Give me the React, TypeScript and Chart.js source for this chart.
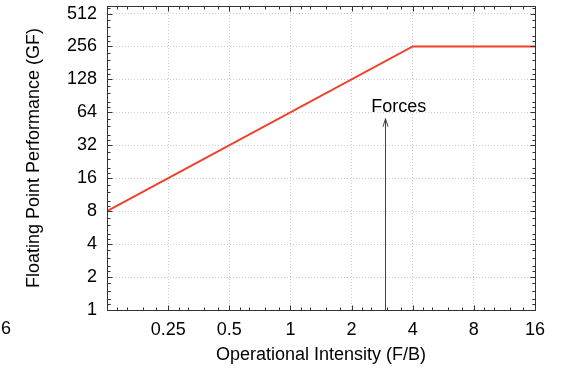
import React, { useEffect, useRef } from 'react';
import { Chart, registerables } from 'chart.js';

Chart.register(...registerables);

// ---- data ----
const INTENSITY = [0.125, 4, 16];
const PERFORMANCE = [8, 256, 256];
const X_TICKS = [0.25, 0.5, 1, 2, 4, 8, 16];
const Y_TICKS = [1, 2, 4, 8, 16, 32, 64, 128, 256, 512];
const X_MIN = 0.125;
const X_MAX = 16;
const Y_MIN = 1;
const Y_MAX = 600;
const MINOR_FACTORS = [1.125, 1.25, 1.5, 1.75];
const ARROW_X = 2.92;
const ARROW_FROM = 1;
const ARROW_TO = 56;
const LABEL_TEXT = 'Forces';
const LABEL_X = 2.5;
const LABEL_Y = 64;
const STRAY_LABEL = '6';
const X_TITLE = 'Operational Intensity (F/B)';
const Y_TITLE = 'Floating Point Performance (GF)';

const FONT = "'Liberation Sans', Arial, Helvetica, sans-serif";
const LINE_COLOR = '#f0402a';
const FRAME_COLOR = '#333333';
const GRID_COLOR = '#cccccc';

function withMinors(majors: number[], lo: number, hi: number) {
  const out: { v: number; major: boolean }[] = [];
  const all = [lo, ...majors];
  for (const v of all) {
    if (v >= lo && v <= hi && majors.includes(v)) out.push({ v, major: true });
    for (const f of MINOR_FACTORS) {
      const m = v * f;
      if (m > lo && m < hi) out.push({ v: m, major: false });
    }
  }
  return out;
}

const framePlugin = {
  id: 'frameTicks',
  afterDatasetsDraw(chart: any) {
    const { ctx, chartArea: a, scales } = chart;
    const xs = scales.x;
    const ys = scales.y;
    ctx.save();

    // annotation arrow
    const ax = Math.round(xs.getPixelForValue(ARROW_X)) + 0.5;
    const ay0 = ys.getPixelForValue(ARROW_FROM);
    const ay1 = ys.getPixelForValue(ARROW_TO);
    ctx.strokeStyle = '#444444';
    ctx.lineWidth = 1;
    ctx.beginPath();
    ctx.moveTo(ax, ay0);
    ctx.lineTo(ax, ay1);
    ctx.moveTo(ax - 2.5, ay1 + 8);
    ctx.lineTo(ax, ay1);
    ctx.lineTo(ax + 2.5, ay1 + 8);
    ctx.stroke();

    // label
    ctx.fillStyle = '#000';
    ctx.font = `18px ${FONT}`;
    ctx.textAlign = 'left';
    ctx.textBaseline = 'alphabetic';
    ctx.fillText(LABEL_TEXT, xs.getPixelForValue(LABEL_X), ys.getPixelForValue(LABEL_Y));

    // stray tick label at far left
    ctx.textBaseline = 'middle';
    ctx.fillText(STRAY_LABEL, 1, 329.5);

    // frame
    const L = Math.round(a.left) + 0.5;
    const R = Math.round(a.right) + 0.5;
    const T = Math.round(a.top) + 0.5;
    const B = Math.round(a.bottom) + 0.5;
    ctx.strokeStyle = FRAME_COLOR;
    ctx.lineWidth = 1;
    ctx.strokeRect(L, T, R - L, B - T);

    // inward ticks
    ctx.beginPath();
    for (const t of withMinors(Y_TICKS, Y_MIN, Y_MAX)) {
      const p = Math.round(ys.getPixelForValue(t.v)) + 0.5;
      const len = t.major ? 5 : 3;
      ctx.moveTo(L, p);
      ctx.lineTo(L + len, p);
      ctx.moveTo(R, p);
      ctx.lineTo(R - len, p);
    }
    for (const t of withMinors(X_TICKS, X_MIN, X_MAX)) {
      const p = Math.round(xs.getPixelForValue(t.v)) + 0.5;
      const len = t.major ? 5 : 3;
      ctx.moveTo(p, B);
      ctx.lineTo(p, B - len);
      ctx.moveTo(p, T);
      ctx.lineTo(p, T + len);
    }
    ctx.stroke();
    ctx.restore();
  },
};

export default function App() {
  const ref = useRef<HTMLCanvasElement | null>(null);

  useEffect(() => {
    if (!ref.current) return;
    const chart = new Chart(ref.current, {
      type: 'line',
      data: {
        datasets: [
          {
            data: INTENSITY.map((x, i) => ({ x, y: PERFORMANCE[i] })),
            borderColor: LINE_COLOR,
            borderWidth: 2,
            pointRadius: 0,
            fill: false,
            tension: 0,
          },
        ],
      },
      options: {
        animation: false,
        responsive: false,
        maintainAspectRatio: false,
        devicePixelRatio: 1,
        layout: { padding: { top: 6, right: 26, left: 0, bottom: 0 } },
        plugins: { legend: { display: false }, tooltip: { enabled: false } },
        scales: {
          x: {
            type: 'logarithmic',
            min: X_MIN,
            max: X_MAX,
            afterBuildTicks: (s: any) => {
              s.ticks = X_TICKS.map((v) => ({ value: v }));
            },
            afterFit: (s: any) => {
              s.height = 60;
              s.paddingLeft = 0;
              s.paddingRight = 0;
            },
            ticks: {
              autoSkip: false,
              maxRotation: 0,
              minRotation: 0,
              padding: 9,
              color: '#000',
              font: { family: FONT, size: 18 },
              callback: (v: any) => String(v),
            },
            grid: { color: GRID_COLOR, drawTicks: false, lineWidth: 1 },
            border: { display: false, dash: [1, 2] },
            title: {
              display: true,
              text: X_TITLE,
              color: '#000',
              font: { family: FONT, size: 18 },
              padding: { top: 0, bottom: 4 },
            },
          },
          y: {
            type: 'logarithmic',
            min: Y_MIN,
            max: Y_MAX,
            afterBuildTicks: (s: any) => {
              s.ticks = Y_TICKS.map((v) => ({ value: v }));
            },
            afterFit: (s: any) => {
              s.width = 107;
              s.paddingTop = 0;
              s.paddingBottom = 0;
            },
            ticks: {
              autoSkip: false,
              padding: 10,
              color: '#000',
              font: { family: FONT, size: 18 },
              callback: (v: any) => String(v),
            },
            grid: { color: GRID_COLOR, drawTicks: false, lineWidth: 1 },
            border: { display: false, dash: [1, 2] },
            title: {
              display: true,
              text: Y_TITLE,
              color: '#000',
              font: { family: FONT, size: 18 },
              padding: { top: 23, bottom: 0 },
            },
          },
        },
      },
      plugins: [framePlugin],
    });
    return () => chart.destroy();
  }, []);

  return (
    <div style={{ position: 'fixed', left: 0, top: 0, width: 561, height: 370, background: '#fff' }}>
      <canvas ref={ref} width={561} height={370} style={{ display: 'block' }} />
    </div>
  );
}
